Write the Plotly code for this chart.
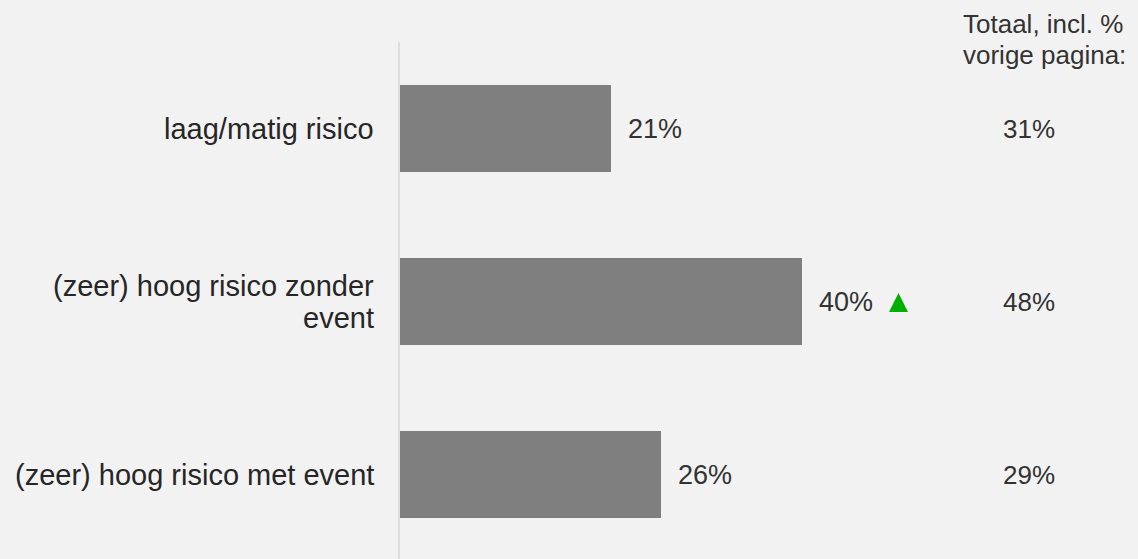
import plotly.graph_objects as go

# Risk categories (top to bottom), share on this page and cumulative total
categories = [["laag/matig risico"], ["(zeer) hoog risico zonder", "event"], ["(zeer) hoog risico met event"]]
values = [21, 40, 26]
totals = [31, 48, 29]
significant_up = [False, True, False]
header = ["Totaal, incl. %", "vorige pagina:"]

BG = "#f2f2f2"
BAR = "#7f7f7f"
FONT = "Liberation Sans, Arial, sans-serif"

W, H = 1138, 559
ML, MT = 400, 42
PX_PER_PCT = 10.05
LINE_H = 32
plot_w = W - ML
plot_h = H - MT

idx = list(range(len(categories)))

fig = go.Figure()
fig.add_trace(go.Bar(
    x=values,
    y=idx,
    orientation="h",
    width=0.503,
    marker=dict(color=BAR, line=dict(width=0)),
    hoverinfo="skip",
))

annotations = []
shapes = []
for i, (lines, v, t, up) in enumerate(zip(categories, values, totals, significant_up)):
    # category label, one annotation per line for tight line spacing
    n = len(lines)
    for k, line in enumerate(lines):
        annotations.append(dict(
            x=0, y=i, xref="x", yref="y", text=line, showarrow=False,
            xanchor="right", yanchor="middle", xshift=-24,
            yshift=-(k - (n - 1) / 2) * LINE_H,
            font=dict(family=FONT, size=29, color="#262626"),
        ))
    annotations.append(dict(
        x=v, y=i, xref="x", yref="y", text=f"{v}%", showarrow=False,
        xanchor="left", yanchor="middle", xshift=15,
        font=dict(family=FONT, size=27, color="#333333"),
    ))
    annotations.append(dict(
        x=(1029 - ML) / plot_w, y=i, xref="paper", yref="y", text=f"{t}%",
        showarrow=False, xanchor="center", yanchor="middle",
        font=dict(family=FONT, size=26, color="#333333"),
    ))
    if up:
        shapes.append(dict(
            type="path", xref="x", yref="y",
            xsizemode="pixel", ysizemode="pixel",
            xanchor=v, yanchor=i,
            path="M 87,-10.5 L 106,-10.5 L 96.5,8.5 Z",
            fillcolor="#00b000", line=dict(width=0),
        ))

# column header for the totals, two lines set close together
for y_px, line in zip([24, 55], header):
    annotations.append(dict(
        x=(962 - ML) / plot_w, y=(H - y_px) / plot_h, xref="paper", yref="paper",
        text=line, showarrow=False, xanchor="left", yanchor="middle",
        borderpad=0,
        font=dict(family=FONT, size=26, color="#333333"),
    ))

fig.update_layout(
    width=W, height=H,
    margin=dict(l=ML, r=0, t=MT, b=0, pad=0),
    paper_bgcolor=BG, plot_bgcolor=BG,
    showlegend=False,
    bargap=0,
    annotations=annotations,
    shapes=shapes,
    xaxis=dict(
        range=[0, plot_w / PX_PER_PCT],
        visible=False, showgrid=False, zeroline=False, fixedrange=True,
    ),
    yaxis=dict(
        range=[2.488, -0.5],
        showticklabels=False, ticks="",
        showgrid=False, zeroline=False,
        showline=True, linecolor="#dedede", linewidth=2,
        fixedrange=True,
    ),
)

fig.write_html("out.html")
